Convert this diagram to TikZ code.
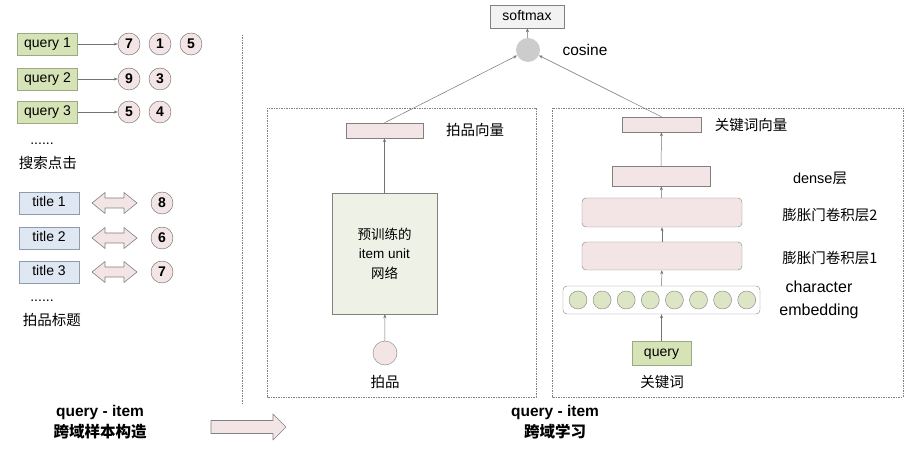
\documentclass[tikz,border=0pt]{standalone}
\usepackage{fontspec}
\setmainfont{Liberation Sans}
\newfontfamily\cjk{Noto Sans CJK SC}
\usetikzlibrary{positioning,arrows.meta}
\definecolor{qgreen}{HTML}{D6E3B6}
\definecolor{qline}{HTML}{9BAA82}
\definecolor{tblue}{HTML}{DFE8F2}
\definecolor{tline}{HTML}{8E9BAC}
\definecolor{npink}{HTML}{F3E5E5}
\definecolor{ugreen}{HTML}{EEF2E6}
\definecolor{egreen}{HTML}{DCE6C4}

\begin{document}
\begin{tikzpicture}[x=1pt,y=-1pt,
	every node/.style={font=\fontsize{14}{16}\selectfont},
	lab/.style={font=\cjk\fontsize{14.5}{17}\selectfont},
	qbox/.style={draw=qline, fill=qgreen, minimum width=60pt, minimum height=22pt, inner sep=0pt, text height=9.5pt, text depth=2pt},
	tbox/.style={draw=tline, fill=tblue, minimum width=60pt, minimum height=22pt, inner sep=0pt, text height=9.5pt, text depth=2pt},
	num/.style={circle, draw=gray!80!black, fill=npink, minimum size=22pt, inner sep=0pt, font=\bfseries\fontsize{14}{14}\selectfont},
	layer/.style={draw=gray, fill=npink, inner sep=0pt},
	block/.style={draw=gray, fill=npink, line width=0.6pt, line join=round},
	link/.style={draw=gray!90!black, line width=0.5pt, -{Stealth[length=4pt,width=3pt]}},
	frame/.style={draw=gray, line width=0.5pt, dash pattern=on 1.5pt off 1pt}]
	\useasboundingbox (0,0) rectangle (914,454);
	% search clicks
	\foreach \r/\y/\list in {1/44/{7,1,5},2/79/{9,3},3/112/{5,4}}
	{
		\node[qbox] (q\r) at (47.5,\y) {query \r};
		\foreach \n [count=\k] in \list
			\node[num] (q\r-\k) at (98+31*\k,\y) {\n};
		\draw[link] (q\r) -- (q\r-1);
	}
	\node (qdots) at (42,144) {......};
	\node[lab] (click) at (48,163) {搜索点击};
	% item titles
	\foreach \r/\y/\n in {1/203/8,2/238/6,3/272/7}
	{
		\node[tbox] (t\r) at (49,\y) {title \r};
		\node[num] (tn\r) at (162,\y) {\n};
		\draw[block] (92,\y) -- (105,\y-10.5) -- (105,\y-5) -- (124,\y-5) -- (124,\y-10.5) -- (137,\y)
			-- (124,\y+10.5) -- (124,\y+5) -- (105,\y+5) -- (105,\y+10.5) -- cycle;
	}
	\node (tdots) at (42,301) {......};
	\node[lab] (title) at (52,320) {拍品标题};
	\node[align=center, font=\bfseries\fontsize{15.5}{21}\selectfont] (leftcap) at (100,422) {query - item\\{\cjk 跨域样本构造}};
	\draw[frame] (242,35) -- (242,405);
	\draw[block] (211,420.5) -- (273,420.5) -- (273,414) -- (286,427) -- (273,440) -- (273,433.5) -- (211,433.5) -- cycle;
	% cross-domain learning
	\draw[frame] (267,108) rectangle (536,397);
	\draw[frame] (552,108) rectangle (903,397);
	\node[draw=gray, fill=gray!10, minimum width=74pt, minimum height=23pt, inner sep=0pt, text height=9.5pt, text depth=2pt] (softmax) at (527,16.5) {softmax};
	\node[circle, fill=gray!40, minimum size=24pt, inner sep=0pt] (cos) at (528,50) {};
	\node[font=\fontsize{15.5}{17}\selectfont] (coslab) at (585,50) {cosine};
	\draw[link] (cos) -- (softmax);
	% item tower
	\node[layer, minimum width=77pt, minimum height=15pt] (ivec) at (384.5,130.5) {};
	\node[lab] (iveclab) at (475,130) {拍品向量};
	\node[draw=gray, fill=ugreen, minimum width=105pt, minimum height=121pt, inner sep=0pt, align=center,
		font=\fontsize{13.5}{19.5}\selectfont] (unit) at (384.5,253.5) {{\cjk 预训练的}\\item unit\\{\cjk 网络}};
	\node[circle, draw=gray, fill=npink, minimum size=24pt, inner sep=0pt] (item) at (385,353) {};
	\node[lab] (itemlab) at (385,382) {拍品};
	\draw[link] (item) -- (unit);
	\draw[link] (unit) -- (ivec);
	\draw[link] (ivec.north) -- (cos);
	% query tower
	\node[layer, minimum width=79pt, minimum height=15pt] (kvec) at (661.5,124.5) {};
	\node[lab] (kveclab) at (751,125) {关键词向量};
	\node[layer, minimum width=98pt, minimum height=20pt] (dense) at (661,176) {};
	\node[lab] (denselab) at (820,178) {\rmfamily dense{\cjk 层}};
	\node[layer, rounded corners=4pt, minimum width=160pt, minimum height=29pt] (conv2) at (662,212.5) {};
	\node[lab] (conv2lab) at (830,215) {膨胀门卷积层2};
	\node[layer, rounded corners=4pt, minimum width=160pt, minimum height=28pt] (conv1) at (662,256) {};
	\node[lab] (conv1lab) at (830,258) {膨胀门卷积层1};
	\node[draw=gray, fill=white, rounded corners=4pt, minimum width=197pt, minimum height=28pt, inner sep=0pt] (emb) at (661.5,300) {};
	\foreach \k in {0,...,7}
		\node[circle, draw=gray, fill=egreen, minimum size=18pt, inner sep=0pt] (c\k) at (578+24.1*\k,300) {};
	\node[align=center, font=\fontsize{16}{23}\selectfont] (emblab) at (819,300) {character\\embedding};
	\node[qbox, minimum width=59pt, minimum height=24pt] (qry) at (661.5,353) {query};
	\node[lab] (qrylab) at (662,382) {关键词};
	\draw[link] (qry) -- (emb);
	\draw[link] (emb) -- (conv1);
	\draw[link] (conv1) -- (conv2);
	\draw[link] (conv2) -- (dense);
	\draw[link] (dense) -- (kvec);
	\draw[link] (kvec.north) -- (cos);
	\node[align=center, font=\bfseries\fontsize{15.5}{21}\selectfont] (rightcap) at (555,422) {query - item\\{\cjk 跨域学习}};
\end{tikzpicture}
\end{document}
